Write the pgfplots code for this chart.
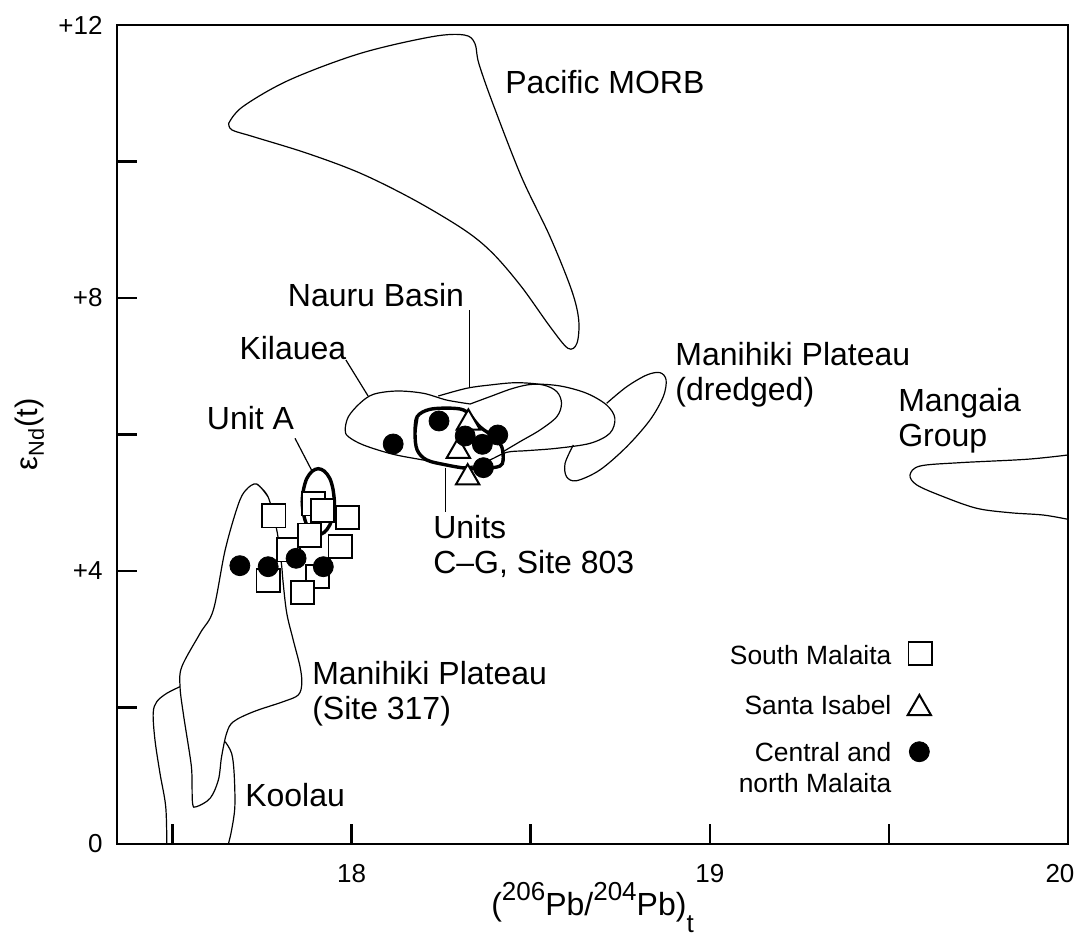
\documentclass[border=0pt]{standalone}
\usepackage{fontspec}
\setmainfont{Liberation Sans}
\usepackage{pgfplots}
\pgfplotsset{compat=1.18}
\pgfplotsset{
  outl/.style={black, line width=0.6pt, smooth, tension=0.55, mark=none},
  bold/.style={black, line width=1.7pt, smooth, tension=0.55, mark=none},
  lead/.style={black, line width=0.6pt, mark=none},
}
\tikzset{
  lab/.style={font=\fontsize{16}{17.5}\selectfont, anchor=west, inner sep=0pt, align=left},
  leg/.style={font=\fontsize{13.2}{15.8}\selectfont, anchor=east, inner sep=0pt, align=right},
}
\newcommand{\sups}[1]{\raisebox{7pt}{\fontsize{13}{13}\selectfont #1}}
\newcommand{\subs}[1]{\raisebox{-9pt}{\fontsize{13}{13}\selectfont #1}}
\begin{document}
\begin{tikzpicture}
\path[use as bounding box] (-58.5pt,-49.5pt) rectangle (480.5pt,422pt);
\begin{axis}[
  at={(0,0)}, anchor=south west,
  scale only axis, width=475.5pt, height=409.5pt,
  xmin=17.345, xmax=20, ymin=0, ymax=12,
  clip=false,
  xtick={17.5,18,18.5,19,19.5,20}, xticklabels={,18,,19,,\hspace*{-8pt}20},
  ytick={0,2,4,6,8,10,12}, yticklabels={0,,+4,,+8,,+12},
  xtick pos=left, ytick pos=left,
  tick align=inside, major tick length=10pt,
  tick style={black, line width=1.3pt},
  axis line style={line width=1.35pt},
  ticklabel style={font=\fontsize{13}{15}\selectfont},
  xticklabel style={anchor=center, inner sep=0pt, yshift=-15pt},
  yticklabel style={anchor=east, inner sep=0pt, xshift=-7pt},
  xlabel={(\sups{206}Pb/\sups{204}Pb)\subs{t}},
  ylabel={ε\textsubscript{Nd}(t)},
  xlabel style={font=\fontsize{16}{18}\selectfont, at={(axis description cs:0.5,0)}, anchor=base, yshift=-35.5pt},
  ylabel style={font=\fontsize{15.5}{17}\selectfont, at={(axis description cs:-0.0915,0.5)}, anchor=center},
]
% Pacific MORB
\addplot[outl] coordinates {(17.657,10.560) (17.696,10.803) (17.826,11.194) (18.025,11.585) (18.225,11.829) (18.315,11.853) (18.344,11.732) (18.355,11.439) (18.394,10.853) (18.474,9.777) (18.554,8.898) (18.614,8.117) (18.634,7.678) (18.629,7.336) (18.604,7.263) (18.554,7.580) (18.474,8.166) (18.394,8.655) (18.315,8.996) (18.175,9.436) (18.025,9.827) (17.876,10.120) (17.726,10.363) (17.666,10.462) (17.657,10.560)};
% Manihiki Plateau (dredged)
\addplot[outl] coordinates {(18.712,6.457) (18.768,6.700) (18.824,6.872) (18.861,6.906) (18.878,6.798) (18.870,6.554) (18.833,6.212) (18.768,5.821) (18.693,5.480) (18.628,5.323) (18.600,5.382) (18.596,5.578) (18.619,5.846)};
% Kilauea (with cusp)
\addplot[outl] coordinates {(18.331,6.447) (18.265,6.505) (18.200,6.604) (18.126,6.637) (18.061,6.589) (18.023,6.457) (17.991,6.261) (17.982,6.066) (17.991,5.968) (18.033,5.846) (18.116,5.710) (18.210,5.616) (18.275,5.538) (18.340,5.538) (18.386,5.626) (18.433,5.739) (18.489,5.763) (18.573,5.798) (18.666,5.871) (18.721,6.018) (18.735,6.237) (18.712,6.432) (18.656,6.604) (18.582,6.711) (18.507,6.736) (18.451,6.677) (18.386,6.554) (18.331,6.447)};
% Nauru Basin
\addplot[outl] coordinates {(18.242,6.564) (18.321,6.677) (18.386,6.725) (18.461,6.759) (18.535,6.725) (18.573,6.627) (18.586,6.457) (18.573,6.261) (18.526,6.066) (18.470,5.895) (18.423,5.748)};
% Mangaia Group
\addplot[outl] coordinates {(20,5.700) (19.885,5.637) (19.698,5.587) (19.587,5.538) (19.559,5.407) (19.578,5.260) (19.652,5.089) (19.745,4.919) (19.838,4.854) (19.931,4.820) (20,4.757)};
% Manihiki Plateau (Site 317)
\addplot[outl] coordinates {(17.735,5.275) (17.767,5.084) (17.791,4.601) (17.800,4.264) (17.805,4.063) (17.809,3.820) (17.819,3.380) (17.837,2.989) (17.856,2.598) (17.861,2.355) (17.851,2.183) (17.809,2.085) (17.726,1.938) (17.670,1.792) (17.651,1.622) (17.637,1.279) (17.628,0.938) (17.605,0.670) (17.567,0.547) (17.556,0.596) (17.554,1.036) (17.549,1.279) (17.530,1.915) (17.521,2.305) (17.526,2.598) (17.577,3.087) (17.614,3.429) (17.647,4.308) (17.683,4.967) (17.705,5.187) (17.735,5.275) (17.767,5.084)};
% Koolau
\addplot[outl] coordinates {(17.484,0) (17.481,0.547) (17.465,1.036) (17.451,1.524) (17.446,1.915) (17.456,2.085) (17.484,2.208) (17.521,2.305)};
\addplot[outl] coordinates {(17.647,1.499) (17.665,1.329) (17.672,1.036) (17.674,0.547) (17.665,0.205) (17.656,0)};
% leaders
\addplot[lead] coordinates {(17.984,7.092) (18.046,6.564)};
\addplot[lead] coordinates {(18.329,7.824) (18.329,6.700)};
\addplot[lead] coordinates {(17.842,5.944) (17.889,5.470)};
\addplot[lead] coordinates {(18.261,5.505) (18.261,4.869)};
% Units C-G, Site 803
\addplot[bold] coordinates {(18.177,6.018) (18.183,6.261) (18.219,6.369) (18.284,6.384) (18.321,6.334) (18.358,6.114) (18.396,5.968) (18.419,5.821) (18.423,5.626) (18.414,5.538) (18.377,5.505) (18.321,5.505) (18.265,5.553) (18.210,5.626) (18.183,5.773) (18.177,6.018) (18.183,6.261)};
% Unit A
\addplot[bold] coordinates {(17.952,5.015) (17.948,5.200) (17.939,5.357) (17.924,5.462) (17.907,5.499) (17.890,5.462) (17.875,5.357) (17.866,5.200) (17.862,5.015) (17.866,4.830) (17.875,4.673) (17.890,4.568) (17.907,4.532) (17.924,4.568) (17.939,4.673) (17.948,4.830) (17.952,5.015) (17.948,5.200)};
% South Malaita
\addplot[only marks, mark=square*, mark size=5.8pt, mark options={fill=white, draw=black, line width=0.9pt}] coordinates {(17.893,4.982) (17.918,4.884) (17.783,4.806) (17.989,4.781) (17.823,4.308) (17.882,4.527) (17.968,4.356) (17.767,3.858) (17.904,3.916) (17.863,3.688) (19.587,2.794)};
% Santa Isabel
\addplot[only marks, mark=triangle*, mark size=6.7pt, mark options={fill=white, draw=black, line width=1pt}] coordinates {(18.326,6.171) (18.298,5.757) (18.324,5.369) (19.585,1.988)};
% Central and north Malaita
\addplot[only marks, mark=*, mark size=5pt, mark options={fill=black, draw=black}] coordinates {(17.688,4.078) (17.767,4.063) (17.845,4.186) (17.921,4.063) (18.116,5.861) (18.244,6.198) (18.317,5.978) (18.408,5.993) (18.365,5.856) (18.368,5.514) (19.585,1.352)};
% labels
\node[lab] at (axis cs:18.428,11.169) {Pacific MORB};
\node[lab] at (axis cs:17.821,8.044) {Nauru Basin};
\node[lab] at (axis cs:17.686,7.267) {Kilauea};
\node[lab] at (axis cs:17.595,6.242) {Unit A};
\node[lab] at (axis cs:18.227,4.366) {Units\\C–G, Site 803};
\node[lab] at (axis cs:18.903,6.879) {Manihiki Plateau\\(dredged)};
\node[lab] at (axis cs:19.525,6.201) {Mangaia\\Group};
\node[lab] at (axis cs:17.889,2.195) {Manihiki Plateau\\(Site 317)};
\node[lab] at (axis cs:17.702,0.718) {Koolau};
\node[leg] at (axis cs:19.508,2.769) {South Malaita};
\node[leg] at (axis cs:19.508,2.037) {Santa Isabel};
\node[leg] at (axis cs:19.508,1.121) {Central and\\north Malaita};
\end{axis}
\end{tikzpicture}
\end{document}
